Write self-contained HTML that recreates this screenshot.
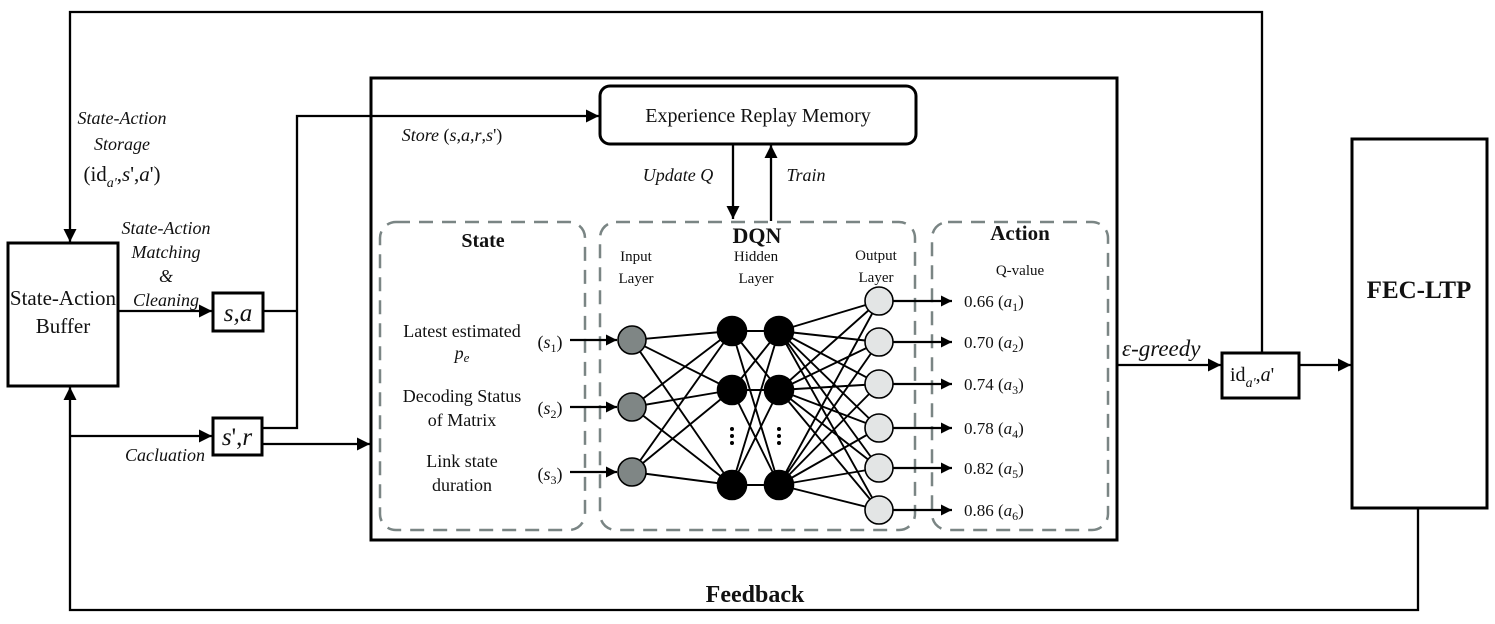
<!DOCTYPE html>
<html><head><meta charset="utf-8"><style>
html,body{margin:0;padding:0;background:#fff}
svg{display:block}
text{font-family:"Liberation Serif",serif;fill:#111}
.i{font-style:italic}
</style></head><body>
<svg width="1495" height="624" viewBox="0 0 1495 624" xmlns="http://www.w3.org/2000/svg">
<defs>
<marker id="ar" viewBox="0 0 10 10" refX="10" refY="5" markerWidth="12" markerHeight="11" markerUnits="userSpaceOnUse" orient="auto"><path d="M0,0 L10,5 L0,10z" fill="#000"/></marker>
<marker id="arb" viewBox="0 0 10 10" refX="10" refY="5" markerWidth="14" markerHeight="13" markerUnits="userSpaceOnUse" orient="auto"><path d="M0,0 L10,5 L0,10z" fill="#000"/></marker>
</defs>
<g fill="none" stroke="#000" stroke-width="2.5">
<rect x="371" y="78" width="746" height="462" stroke-width="3"/>
<rect x="8" y="243" width="110" height="143" stroke-width="3"/>
<rect x="213" y="293" width="50" height="38" stroke-width="3"/>
<rect x="213" y="418" width="49" height="37" stroke-width="3"/>
<rect x="1222" y="353" width="77" height="45" stroke-width="3"/>
<rect x="1352" y="139" width="135" height="369" stroke-width="3"/>
<rect x="600" y="86" width="316" height="58" rx="10" stroke-width="3"/>
</g>
<g fill="none" stroke="#7a8584" stroke-width="2.5" stroke-dasharray="14,9">
<rect x="380" y="222" width="205" height="308" rx="16"/>
<rect x="600" y="222" width="315" height="308" rx="16"/>
<rect x="932" y="222" width="176" height="308" rx="16"/>
</g>
<g fill="none" stroke="#000" stroke-width="2.3">
<polyline points="1262,353 1262,12 70,12 70,242" marker-end="url(#arb)"/>
<polyline points="1418,508 1418,610 70,610 70,387" marker-end="url(#arb)"/>
<line x1="70" y1="436" x2="212" y2="436" marker-end="url(#arb)"/>
<line x1="118" y1="311" x2="212" y2="311" marker-end="url(#arb)"/>
<polyline points="263,311 297,311"/>
<polyline points="262,428 297,428 297,116 599,116" marker-end="url(#arb)"/>
<line x1="262" y1="444" x2="370" y2="444" marker-end="url(#arb)"/>
<line x1="733" y1="144" x2="733" y2="219" marker-end="url(#arb)"/>
<line x1="771" y1="221" x2="771" y2="145" marker-end="url(#arb)"/>
<line x1="1117" y1="365" x2="1221" y2="365" marker-end="url(#arb)"/>
<line x1="1299" y1="365" x2="1351" y2="365" marker-end="url(#arb)"/>
<line x1="570" y1="340" x2="617" y2="340" marker-end="url(#ar)"/>
<line x1="570" y1="407" x2="617" y2="407" marker-end="url(#ar)"/>
<line x1="570" y1="472" x2="617" y2="472" marker-end="url(#ar)"/>
</g>
<g stroke="#000" stroke-width="1.9">
<path d="M632,340L732,331M632,340L732,390M632,340L732,485M632,407L732,331M632,407L732,390M632,407L732,485M632,472L732,331M632,472L732,390M632,472L732,485"/>
<path d="M732,331L779,331M732,331L779,390M732,331L779,485M732,390L779,331M732,390L779,390M732,390L779,485M732,485L779,331M732,485L779,390M732,485L779,485"/>
<path d="M779,331L879,301M779,331L879,342M779,331L879,384M779,331L879,428M779,331L879,468M779,331L879,510M779,390L879,301M779,390L879,342M779,390L879,384M779,390L879,428M779,390L879,468M779,390L879,510M779,485L879,301M779,485L879,342M779,485L879,384M779,485L879,428M779,485L879,468M779,485L879,510"/>
</g>
<g stroke="#000" stroke-width="2.3" fill="none">
<line x1="893" y1="301" x2="952" y2="301" marker-end="url(#ar)"/>
<line x1="893" y1="342" x2="952" y2="342" marker-end="url(#ar)"/>
<line x1="893" y1="384" x2="952" y2="384" marker-end="url(#ar)"/>
<line x1="893" y1="428" x2="952" y2="428" marker-end="url(#ar)"/>
<line x1="893" y1="468" x2="952" y2="468" marker-end="url(#ar)"/>
<line x1="893" y1="510" x2="952" y2="510" marker-end="url(#ar)"/>
</g>
<g stroke="#000" stroke-width="1.6">
<circle cx="632" cy="340" r="14" fill="#7f8685"/>
<circle cx="632" cy="407" r="14" fill="#7f8685"/>
<circle cx="632" cy="472" r="14" fill="#7f8685"/>
<circle cx="732" cy="331" r="14.5" fill="#000"/>
<circle cx="732" cy="390" r="14.5" fill="#000"/>
<circle cx="732" cy="485" r="14.5" fill="#000"/>
<circle cx="779" cy="331" r="14.5" fill="#000"/>
<circle cx="779" cy="390" r="14.5" fill="#000"/>
<circle cx="779" cy="485" r="14.5" fill="#000"/>
<circle cx="879" cy="301" r="14" fill="#e3e5e5"/>
<circle cx="879" cy="342" r="14" fill="#e3e5e5"/>
<circle cx="879" cy="384" r="14" fill="#e3e5e5"/>
<circle cx="879" cy="428" r="14" fill="#e3e5e5"/>
<circle cx="879" cy="468" r="14" fill="#e3e5e5"/>
<circle cx="879" cy="510" r="14" fill="#e3e5e5"/>
</g>
<g fill="#000">
<circle cx="732" cy="429" r="2"/><circle cx="732" cy="436" r="2"/><circle cx="732" cy="443" r="2"/>
<circle cx="779" cy="429" r="2"/><circle cx="779" cy="436" r="2"/><circle cx="779" cy="443" r="2"/>
</g>
<g font-size="18" text-anchor="middle">
<text class="i" x="122" y="124">State-Action</text>
<text class="i" x="122" y="150">Storage</text>
<text x="122" y="181" font-size="21">(id<tspan class="i" font-size="14" dy="6">a'</tspan><tspan dy="-6">,</tspan><tspan class="i">s</tspan>',<tspan class="i">a</tspan>')</text>
<text class="i" x="166" y="234">State-Action</text>
<text class="i" x="166" y="258">Matching</text>
<text class="i" x="166" y="282">&amp;</text>
<text class="i" x="166" y="306">Cleaning</text>
<text x="63" y="305" font-size="21">State-Action</text>
<text x="63" y="333" font-size="21">Buffer</text>
<text x="238" y="321" font-size="25" class="i">s,a</text>
<text x="237" y="445" font-size="25"><tspan class="i">s</tspan>',<tspan class="i">r</tspan></text>
<text class="i" x="165" y="461">Cacluation</text>
<text x="452" y="141" font-size="18"><tspan class="i">Store</tspan> (<tspan class="i">s</tspan>,<tspan class="i">a</tspan>,<tspan class="i">r</tspan>,<tspan class="i">s</tspan>')</text>
<text x="758" y="122" font-size="20">Experience Replay Memory</text>
<text class="i" x="678" y="181">Update Q</text>
<text class="i" x="806" y="181">Train</text>
<text x="483" y="247" font-size="20" font-weight="bold">State</text>
<text x="757" y="243" font-size="22" font-weight="bold">DQN</text>
<text x="1020" y="240" font-size="21" font-weight="bold">Action</text>
<text x="636" y="261" font-size="15">Input</text>
<text x="636" y="283" font-size="15">Layer</text>
<text x="756" y="261" font-size="15">Hidden</text>
<text x="756" y="283" font-size="15">Layer</text>
<text x="876" y="260" font-size="15">Output</text>
<text x="876" y="282" font-size="15">Layer</text>
<text x="1020" y="275" font-size="15">Q-value</text>
<text x="462" y="337">Latest estimated</text>
<text x="462" y="359" class="i">p<tspan font-size="13" dy="3">e</tspan></text>
<text x="462" y="402">Decoding Status</text>
<text x="462" y="426">of Matrix</text>
<text x="462" y="467">Link state</text>
<text x="462" y="491">duration</text>
<text x="550" y="348">(<tspan class="i">s</tspan><tspan font-size="12" dy="4">1</tspan><tspan dy="-4">)</tspan></text>
<text x="550" y="414">(<tspan class="i">s</tspan><tspan font-size="12" dy="4">2</tspan><tspan dy="-4">)</tspan></text>
<text x="550" y="480">(<tspan class="i">s</tspan><tspan font-size="12" dy="4">3</tspan><tspan dy="-4">)</tspan></text>
</g>
<g font-size="17">
<text x="964" y="307">0.66 (<tspan class="i">a</tspan><tspan font-size="12" dy="4">1</tspan><tspan dy="-4">)</tspan></text>
<text x="964" y="348">0.70 (<tspan class="i">a</tspan><tspan font-size="12" dy="4">2</tspan><tspan dy="-4">)</tspan></text>
<text x="964" y="390">0.74 (<tspan class="i">a</tspan><tspan font-size="12" dy="4">3</tspan><tspan dy="-4">)</tspan></text>
<text x="964" y="434">0.78 (<tspan class="i">a</tspan><tspan font-size="12" dy="4">4</tspan><tspan dy="-4">)</tspan></text>
<text x="964" y="474">0.82 (<tspan class="i">a</tspan><tspan font-size="12" dy="4">5</tspan><tspan dy="-4">)</tspan></text>
<text x="964" y="516">0.86 (<tspan class="i">a</tspan><tspan font-size="12" dy="4">6</tspan><tspan dy="-4">)</tspan></text>
<text x="1122" y="356" font-size="23" class="i">ε-greedy</text>
<text x="1230" y="381" font-size="20">id<tspan class="i" font-size="14" dy="6">a'</tspan><tspan dy="-6">,</tspan><tspan class="i">a</tspan>'</text>
<text x="1419" y="298" font-size="25" font-weight="bold" text-anchor="middle">FEC-LTP</text>
<text x="755" y="602" font-size="24" font-weight="bold" text-anchor="middle">Feedback</text>
</g>
</svg>
</body></html>
